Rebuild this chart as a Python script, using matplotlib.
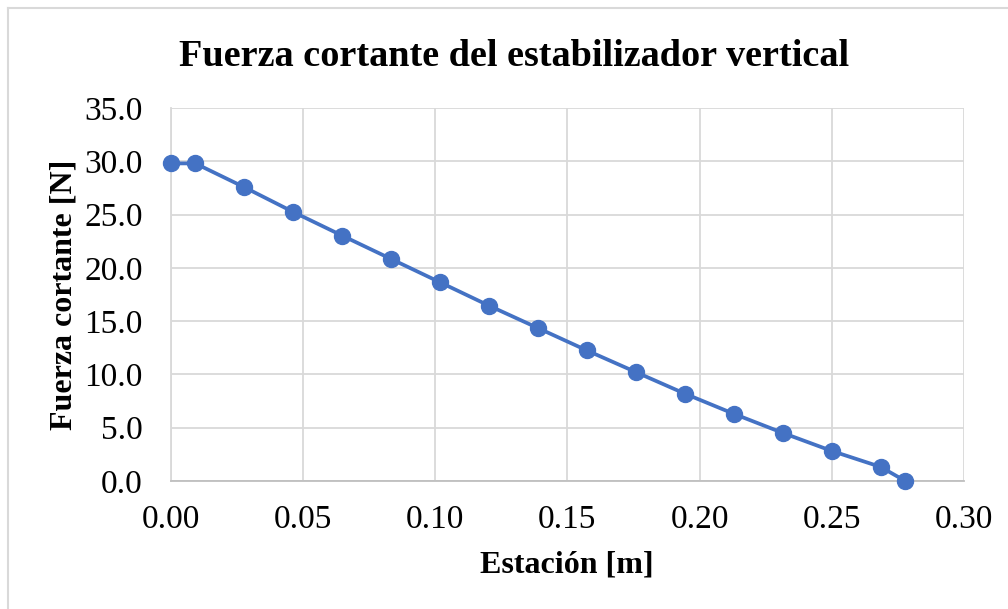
import numpy as np
import matplotlib.pyplot as plt
from matplotlib.lines import Line2D

# estaciones [m] y fuerza cortante [N]
estacion = [0.0, 0.0093, 0.0278, 0.0463, 0.0648, 0.0833, 0.1019, 0.1204,
            0.1389, 0.1574, 0.1759, 0.1944, 0.2130, 0.2315, 0.2500, 0.2685, 0.2778]
cortante = [29.8, 29.8, 27.57, 25.25, 23.03, 20.84, 18.64, 16.45,
            14.35, 12.25, 10.22, 8.2, 6.3, 4.51, 2.82, 1.32, 0.0]

x_ticks = [0.00, 0.05, 0.10, 0.15, 0.20, 0.25, 0.30]
y_ticks = [0, 5, 10, 15, 20, 25, 30, 35]

plt.rcParams['font.family'] = ['Liberation Serif', 'DejaVu Serif']

fig = plt.figure(figsize=(10.08, 6.09), dpi=100)
ax = fig.add_axes([0.1693, 0.2102, 0.9563 - 0.1693, 0.8227 - 0.2102])

ax.plot(estacion, cortante, color='#4472C4', lw=2.7, marker='o', ms=11.5,
        solid_capstyle='round', zorder=3, clip_on=False)

ax.set_xlim(0, 0.30)
ax.set_ylim(0, 35)
ax.set_xticks(x_ticks)
ax.set_yticks(y_ticks)
ax.set_xticklabels([f'{v:.2f}' for v in x_ticks])
ax.set_yticklabels([f'{v:.1f}' for v in y_ticks])
ax.tick_params(length=0, labelsize=24)
ax.tick_params(axis='x', pad=17)
ax.tick_params(axis='y', pad=20)
ax.grid(True, color='#D9D9D9', lw=1.3)
ax.set_axisbelow(True)
for s in ['top', 'right']:
    ax.spines[s].set_visible(False)
ax.spines['left'].set_color('#D9D9D9')
ax.spines['left'].set_linewidth(1.3)
ax.spines['bottom'].set_color('#BFBFBF')
ax.spines['bottom'].set_linewidth(1.3)

fig.text(567 / 1008, 1 - 565 / 609, 'Estación [m]', ha='center', va='center',
         fontsize=23, fontweight='bold')
fig.text(64 / 1008, 1 - 295 / 609, 'Fuerza cortante [N]', ha='center', va='center',
         rotation=90, fontsize=23, fontweight='bold')
fig.text(514 / 1008, 1 - 56 / 609, 'Fuerza cortante del estabilizador vertical',
         ha='center', va='center', fontsize=27.5, fontweight='bold')

# borde del grafico (solo se ve arriba e izquierda)
fig.add_artist(Line2D([8 / 1008, 8 / 1008], [0, 1 - 8 / 609], color='#D9D9D9', lw=1.5))
fig.add_artist(Line2D([8 / 1008, 1], [1 - 8 / 609, 1 - 8 / 609], color='#D9D9D9', lw=1.5))

fig.savefig('out.png', dpi=100)
